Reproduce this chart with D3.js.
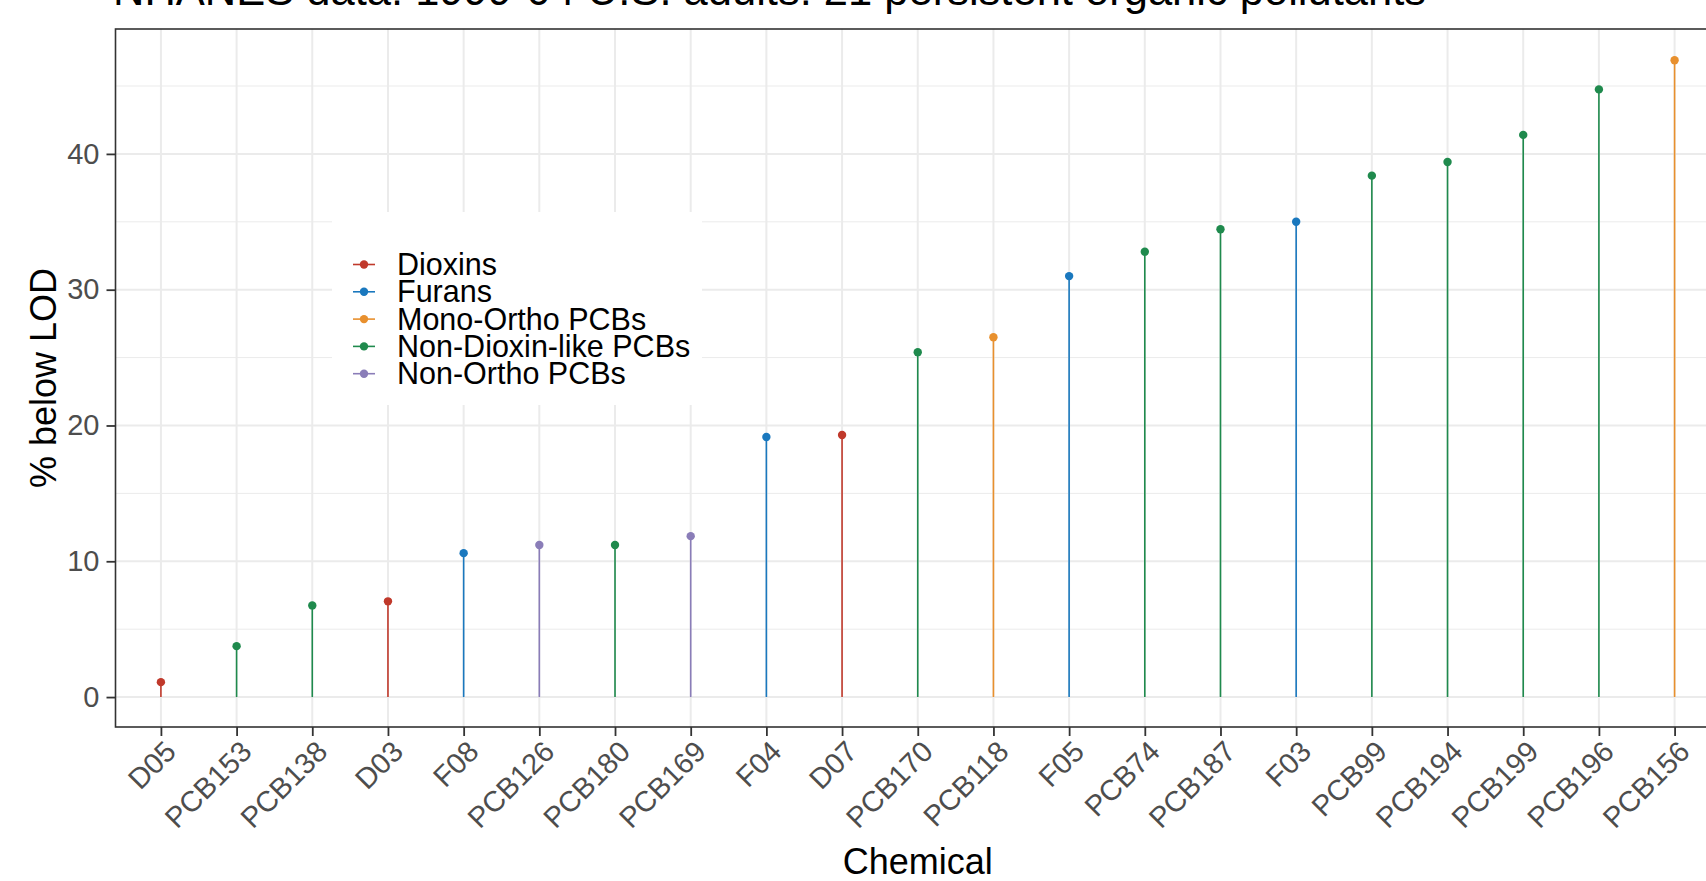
<!DOCTYPE html>
<html lang="en">
<head>
    <meta charset="UTF-8">
    <title>NHANES persistent organic pollutants</title>
    <script src="https://cdn.jsdelivr.net/npm/d3@7"></script>
    <style type="text/css">
        body { margin: 0; background: #fff; }
        svg text { font-family: "Liberation Sans", Arial, sans-serif; }
        .grid-major { stroke: #EBEBEB; stroke-width: 2; }
        .grid-minor { stroke: #EBEBEB; stroke-width: 1; }
        .axis-text { fill: #4D4D4D; font-size: 29px; }
    </style>
</head>
<body>
<div id="vis"></div>
<script type="text/javascript">

    // chemicals, in plotted order
    const chemicals = ["D05", "PCB153", "PCB138", "D03", "F08", "PCB126", "PCB180", "PCB169", "F04", "D07",
        "PCB170", "PCB118", "F05", "PCB74", "PCB187", "F03", "PCB99", "PCB194", "PCB199", "PCB196", "PCB156"];
    // % below limit of detection
    const pctBelowLod = [1.1, 3.75, 6.75, 7.05, 10.6, 11.2, 11.2, 11.85, 19.15, 19.3,
        25.4, 26.5, 31.0, 32.8, 34.45, 35.0, 38.4, 39.4, 41.4, 44.75, 46.9];
    const chemClass = ["Dioxins", "Non-Dioxin-like PCBs", "Non-Dioxin-like PCBs", "Dioxins", "Furans",
        "Non-Ortho PCBs", "Non-Dioxin-like PCBs", "Non-Ortho PCBs", "Furans", "Dioxins",
        "Non-Dioxin-like PCBs", "Mono-Ortho PCBs", "Furans", "Non-Dioxin-like PCBs", "Non-Dioxin-like PCBs",
        "Furans", "Non-Dioxin-like PCBs", "Non-Dioxin-like PCBs", "Non-Dioxin-like PCBs",
        "Non-Dioxin-like PCBs", "Mono-Ortho PCBs"];

    const classes = ["Dioxins", "Furans", "Mono-Ortho PCBs", "Non-Dioxin-like PCBs", "Non-Ortho PCBs"];
    const classColors = ["#C0392B", "#1A78BE", "#E8902E", "#1F8A4D", "#8A7DB8"];

    const yMajorTicks = [0, 10, 20, 30, 40];
    const yMinorTicks = [5, 15, 25, 35, 45];

    const data = chemicals.map(function (c, i) {
        return {chemical: c, value: pctBelowLod[i], cls: chemClass[i]};
    });

    const width = 1706, height = 881;
    // panel box (it runs past the right edge of the picture)
    const panel = {left: 115.5, top: 29, right: 1720, bottom: 727};

    const svg = d3.select("#vis").append("svg")
        .attr("width", width)
        .attr("height", height);

    const xScale = d3.scalePoint()
        .domain(chemicals)
        .range([panel.left, panel.right])
        .padding(0.6);

    const yMax = d3.max(pctBelowLod);
    const yScale = d3.scaleLinear()
        .domain([-0.047 * yMax, yMax * 1.049])
        .range([panel.bottom, panel.top]);

    const color = d3.scaleOrdinal().domain(classes).range(classColors);

    // grid lines
    const grid = svg.append("g");
    grid.selectAll(".minor-y").data(yMinorTicks).enter().append("line")
        .attr("class", "grid-minor")
        .attr("x1", panel.left).attr("x2", panel.right)
        .attr("y1", d => yScale(d)).attr("y2", d => yScale(d));
    grid.selectAll(".major-y").data(yMajorTicks).enter().append("line")
        .attr("class", "grid-major")
        .attr("x1", panel.left).attr("x2", panel.right)
        .attr("y1", d => yScale(d)).attr("y2", d => yScale(d));
    grid.selectAll(".major-x").data(chemicals).enter().append("line")
        .attr("class", "grid-major")
        .attr("x1", d => xScale(d)).attr("x2", d => xScale(d))
        .attr("y1", panel.top).attr("y2", panel.bottom);

    // lollipops
    svg.append("g").selectAll("line").data(data).enter().append("line")
        .attr("x1", d => xScale(d.chemical)).attr("x2", d => xScale(d.chemical))
        .attr("y1", yScale(0)).attr("y2", d => yScale(d.value))
        .attr("stroke", d => color(d.cls))
        .attr("stroke-width", 1.6);
    svg.append("g").selectAll("circle").data(data).enter().append("circle")
        .attr("cx", d => xScale(d.chemical))
        .attr("cy", d => yScale(d.value))
        .attr("r", 4.2)
        .attr("fill", d => color(d.cls));

    // panel border
    svg.append("rect")
        .attr("x", panel.left).attr("y", panel.top)
        .attr("width", panel.right - panel.left).attr("height", panel.bottom - panel.top)
        .attr("fill", "none").attr("stroke", "#333333").attr("stroke-width", 1.6);

    // y axis
    const yAxis = svg.append("g")
        .attr("transform", "translate(" + panel.left + ",0)")
        .call(d3.axisLeft(yScale).tickValues(yMajorTicks).tickSize(9).tickPadding(7));
    yAxis.select(".domain").remove();
    yAxis.selectAll(".tick line").attr("stroke", "#333333").attr("stroke-width", 1.8);
    yAxis.selectAll(".tick text").attr("class", "axis-text").attr("fill", null);

    // x axis
    const xAxis = svg.append("g")
        .attr("transform", "translate(0," + panel.bottom + ")")
        .call(d3.axisBottom(xScale).tickSize(9).tickPadding(0));
    xAxis.select(".domain").remove();
    xAxis.selectAll(".tick line").attr("stroke", "#333333").attr("stroke-width", 1.8);
    xAxis.selectAll(".tick text")
        .attr("class", "axis-text").attr("fill", null)
        .attr("text-anchor", "end")
        .attr("dy", null)
        .attr("transform", "translate(10,20) rotate(-45)");

    // axis titles
    svg.append("text")
        .attr("x", (panel.left + panel.right) / 2)
        .attr("y", 874)
        .attr("text-anchor", "middle")
        .attr("font-size", 36)
        .text("Chemical");
    svg.append("text")
        .attr("transform", "translate(56," + ((panel.top + panel.bottom) / 2) + ") rotate(-90)")
        .attr("text-anchor", "middle")
        .attr("font-size", 36)
        .text("% below LOD");

    // title, partly cut off at the top
    svg.append("text")
        .attr("x", 113)
        .attr("y", 5)
        .attr("font-size", 43.5)
        .text("NHANES data: 1999-04 U.S. adults: 21 persistent organic pollutants");

    // legend
    const legend = svg.append("g");
    legend.append("rect")
        .attr("x", 332).attr("y", 212)
        .attr("width", 370).attr("height", 193)
        .attr("fill", "#fff");
    const rows = legend.selectAll(".row").data(classes).enter().append("g")
        .attr("transform", (d, i) => "translate(0," + (264.5 + i * 27.3) + ")");
    rows.append("line")
        .attr("x1", 353).attr("x2", 375)
        .attr("stroke", d => color(d)).attr("stroke-width", 1.6);
    rows.append("circle")
        .attr("cx", 364).attr("r", 4.2)
        .attr("fill", d => color(d));
    rows.append("text")
        .attr("x", 397).attr("dy", "0.35em")
        .attr("font-size", 30.5)
        .text(d => d);
</script>
</body>
</html>
